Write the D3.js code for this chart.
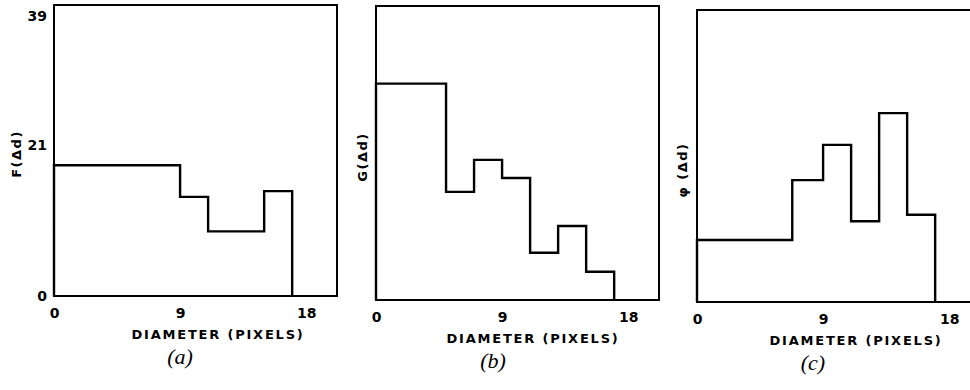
<!DOCTYPE html>
<html>
<head>
<meta charset="utf-8">
<script src="https://cdn.jsdelivr.net/npm/d3@7"></script>
<style>
  body { margin: 0; background: #fff; }
  text { fill: #000; }
</style>
</head>
<body>
<div id="chart"></div>
<script>
// histogram bin edges (diameter, pixels) and heights for each panel
var edgesA = [0, 9, 11, 15, 17];
var valuesA = [18.2, 13.8, 9.0, 14.6];

var edgesB = [0, 5, 7, 9, 11, 13, 15, 17];
var valuesB = [29.8, 14.9, 19.3, 16.8, 6.5, 10.2, 3.9];

var edgesC = [0, 6.8, 9, 11, 13, 15, 17];
var valuesC = [8.6, 16.9, 21.8, 11.2, 26.2, 12.1];

var xTicks = [0, 9, 18];
var yTicksA = [0, 21, 39];
var yLabels = ["F(\u0394d)", "G(\u0394d)", "\u03c6 (\u0394d)"];
var captions = ["(a)", "(b)", "(c)"];

var xMax = 20.2, yMax = 40.5;

var panels = [
  {edges: edgesA, values: valuesA, yticks: yTicksA, left: 54, top: 5, bottom: 296, labX: -38, labY: 154, titleX: 164, capX: 126},
  {edges: edgesB, values: valuesB, yticks: [], left: 376, top: 6, bottom: 300, labX: -14, labY: 157, titleX: 157, capX: 117},
  {edges: edgesC, values: valuesC, yticks: [], left: 697, top: 10, bottom: 302, labX: -15, labY: 170, titleX: 159, capX: 116}
];

var svg = d3.select("#chart").append("svg")
  .attr("width", 970).attr("height", 390);

var boldFont = "'DejaVu Sans', sans-serif";

panels.forEach(function(p, i) {
  var x = d3.scaleLinear().domain([0, xMax]).range([0, 283]);
  var y = d3.scaleLinear().domain([0, yMax]).range([p.bottom - p.top, 0]);
  var h = p.bottom - p.top;

  var g = svg.append("g")
    .attr("transform", "translate(" + p.left + "," + p.top + ")");

  // frame
  g.append("rect")
    .attr("x", x(0)).attr("y", y(yMax))
    .attr("width", x(xMax) - x(0)).attr("height", y(0) - y(yMax))
    .attr("fill", "none").attr("stroke", "#000").attr("stroke-width", 2);

  // histogram outline
  var pts = [[0, 0]];
  p.values.forEach(function(v, j) { pts.push([p.edges[j], v]); });
  pts.push([p.edges[p.edges.length - 1], 0]);

  var line = d3.line()
    .x(function(d) { return x(d[0]); })
    .y(function(d) { return y(d[1]); })
    .curve(d3.curveStepAfter);

  g.append("path")
    .attr("d", line(pts))
    .attr("fill", "none").attr("stroke", "#000").attr("stroke-width", 2.4);

  // x axis labels only
  var xa = g.append("g")
    .attr("transform", "translate(0," + h + ")")
    .call(d3.axisBottom(x).tickValues(xTicks).tickSize(0).tickPadding(12).tickFormat(d3.format("d")));
  xa.select(".domain").remove();
  xa.selectAll("text")
    .attr("font-family", boldFont).attr("font-weight", "bold").attr("font-size", 14);

  if (p.yticks.length) {
    var ya = g.append("g")
      .call(d3.axisLeft(y).tickValues(p.yticks).tickSize(0).tickPadding(7).tickFormat(d3.format("d")));
    ya.select(".domain").remove();
    ya.selectAll("text")
      .attr("font-family", boldFont).attr("font-weight", "bold").attr("font-size", 14);
  }

  g.append("text")
    .attr("x", p.titleX).attr("y", h + 43)
    .attr("text-anchor", "middle")
    .attr("font-family", boldFont).attr("font-weight", "bold").attr("font-size", 13)
    .attr("letter-spacing", 1.8)
    .text("DIAMETER (PIXELS)");

  g.append("text")
    .attr("x", p.capX).attr("y", h + 68)
    .attr("text-anchor", "middle")
    .attr("font-family", "'Liberation Serif', serif").attr("font-style", "italic").attr("font-size", 22)
    .text(captions[i]);

  g.append("text")
    .attr("transform", "translate(" + p.labX + "," + (p.labY - p.top) + ") rotate(-90)")
    .attr("text-anchor", "middle").attr("dy", "0.35em")
    .attr("font-family", boldFont).attr("font-weight", "bold").attr("font-size", 13)
    .attr("letter-spacing", 1.5)
    .text(yLabels[i]);
});
</script>
</body>
</html>
